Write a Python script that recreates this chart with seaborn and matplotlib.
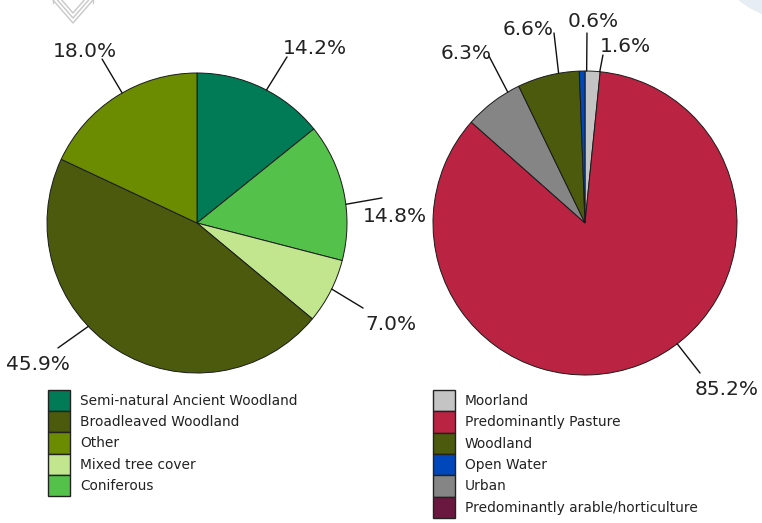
import numpy as np
import seaborn as sns
import matplotlib.pyplot as plt
import matplotlib.patches as mpatches

# left pie: woodland types (clockwise from 12 o'clock)
wood_types = ["Semi-natural Ancient Woodland", "Coniferous", "Mixed tree cover",
              "Broadleaved Woodland", "Other"]
wood_values = [14.2, 14.8, 7.0, 45.9, 18.0]
wood_legend = ["Semi-natural Ancient Woodland", "Broadleaved Woodland", "Other",
               "Mixed tree cover", "Coniferous"]
wood_colors = {"Semi-natural Ancient Woodland": "#017a56", "Broadleaved Woodland": "#4c5a0e",
               "Other": "#6b8c00", "Mixed tree cover": "#c2e68e", "Coniferous": "#54c24a"}

# right pie: land use (clockwise from 12 o'clock)
land_types = ["Moorland", "Predominantly Pasture", "Urban", "Woodland", "Open Water"]
land_values = [1.6, 85.2, 6.3, 6.6, 0.6]
land_legend = ["Moorland", "Predominantly Pasture", "Woodland", "Open Water", "Urban",
               "Predominantly arable/horticulture"]
land_colors = {"Moorland": "#c4c4c4", "Predominantly Pasture": "#bb2342", "Woodland": "#4c5a0e",
               "Open Water": "#0047bb", "Urban": "#858585",
               "Predominantly arable/horticulture": "#6b1840"}

# label layout: (start nudge deg clockwise, line end, text anchor) in radius units
wood_layout = [(2, (0.60, 1.107), (0.573, 1.127)),
               (5, (1.233, 0.167), (1.107, 0.007)),
               (-1, (1.107, -0.567), (1.12, -0.713)),
               (14, (-0.927, -0.833), (-1.273, -0.98)),
               (2.5, (-0.633, 1.093), (-0.96, 1.107))]
land_layout = [(2.7, (0.118, 1.105), (0.099, 1.125)),
               (-16, (0.757, -0.987), (0.724, -1.13)),
               (6.6, (-0.632, 1.099), (-0.947, 1.079)),
               (4, (-0.204, 1.25), (-0.54, 1.237)),
               (1.7, (0.013, 1.25), (-0.112, 1.29))]

sns.set_theme(style="white")
plt.rcParams['font.family'] = ['DejaVu Sans']

W, H = 762, 523
fig = plt.figure(figsize=(W / 100, H / 100), dpi=100)
fig.patch.set_facecolor("white")

# background decorations in pixel coordinates
bg = fig.add_axes([0, 0, 1, 1], zorder=0)
bg.set_xlim(0, W)
bg.set_ylim(H, 0)
bg.axis("off")
bg.add_patch(mpatches.Ellipse((815, -45), 200, 140, color="#e6eef4", lw=0))
for dy in [0, 5, 10]:
    bg.plot([53, 73, 93], [-10 + dy, 13 + dy, -10 + dy], color="#c8c8c8", lw=1)
bg.plot([53, 53], [0, 3], color="#c8c8c8", lw=1)
bg.plot([93, 93], [0, 3], color="#c8c8c8", lw=1)


def draw_pie(cx, cy, r, cats, vals, colors, layout):
    pad = 1.05
    ax = fig.add_axes([(cx - pad * r) / W, (H - cy - pad * r) / H,
                       2 * pad * r / W, 2 * pad * r / H], zorder=2)
    wedges, _ = ax.pie(vals, colors=[colors[c] for c in cats], startangle=90,
                       counterclock=False,
                       wedgeprops=dict(edgecolor="#1a1a1a", linewidth=0.7))
    ax.set_xlim(-pad, pad)
    ax.set_ylim(-pad, pad)
    ax.axis("off")
    for w, v, (nudge, end, txt) in zip(wedges, vals, layout):
        mid = np.deg2rad((w.theta1 + w.theta2) / 2 - nudge)
        ax.plot([np.cos(mid), end[0]], [np.sin(mid), end[1]], color="#111111",
                lw=1, clip_on=False)
        ax.text(txt[0], txt[1], f"{v:.1f}%", ha="left", va="baseline",
                fontsize=14.5, color="#222222")
    return ax


draw_pie(197, 223, 150, wood_types, wood_values, wood_colors, wood_layout)
draw_pie(585, 223, 152, land_types, land_values, land_colors, land_layout)


def draw_legend(x, y, names, colors, row_px):
    fs = 9.9
    fs_px = fs * 100 / 72
    handles = [mpatches.Patch(facecolor=colors[n], edgecolor="#222222", lw=1) for n in names]
    # legend patch height = fs * (0.65 * hh + 0.245)
    hh = (row_px / fs_px - 0.245) / 0.65
    fig.legend(handles, names, loc="upper left", bbox_to_anchor=(x / W, 1 - y / H),
               frameon=False, fontsize=fs, handlelength=21.5 / fs_px, handleheight=hh,
               labelspacing=0, handletextpad=0.75, borderpad=0, borderaxespad=0,
               labelcolor="#222222")


draw_legend(48, 390, wood_legend, wood_colors, 21.2)
draw_legend(433, 390, land_legend, land_colors, 21.3)

fig.savefig("out.png", dpi=100)
